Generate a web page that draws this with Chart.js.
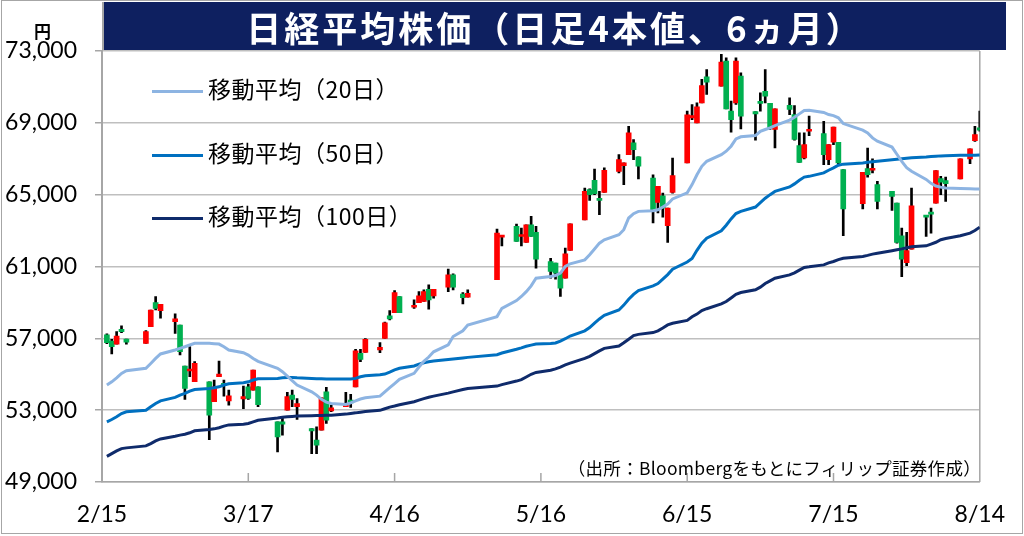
<!DOCTYPE html>
<html>
<head>
<meta charset="utf-8">
<script src="https://cdn.jsdelivr.net/npm/chart.js@4.4.1/dist/chart.umd.min.js"></script>
<style>
html,body{margin:0;padding:0;background:#fff;}
#wrap{position:relative;width:1024px;height:536px;overflow:hidden;background:#fff;}
#frame{position:absolute;left:1px;top:0px;width:1022px;height:534px;border:1.5px solid #a6a6a6;box-sizing:border-box;pointer-events:none;}
canvas{position:absolute;left:0;top:0;}
#title{position:absolute;left:102px;top:2px;width:904px;height:48px;background:#0E2060;color:#fff;
  font:700 35px "Noto Sans CJK JP";display:flex;align-items:center;justify-content:center;letter-spacing:3px;border-left:2px solid #a6a6a6;box-sizing:border-box;}
#yen{position:absolute;left:34px;top:18px;font:700 17px "Noto Sans CJK JP";color:#000;}
.lg{position:absolute;left:152px;height:24px;}
.lg .ln{position:absolute;left:0;top:11px;width:51px;height:3px;}
.lg .tx{position:absolute;left:56px;top:-8px;white-space:nowrap;font:400 23px "Noto Sans CJK JP";color:#000;letter-spacing:0.5px;}
#note{position:absolute;right:43px;top:455px;font:400 17.5px "Noto Sans CJK JP";color:#000;white-space:nowrap;letter-spacing:0.3px;}
</style>
</head>
<body>
<div id="wrap">
  <canvas id="c" width="1024" height="536"></canvas>
  <div id="title">日経平均株価（日足4本値、6ヵ月）</div>
  <div id="yen">円</div>
  <div class="lg" style="top:79px"><div class="ln" style="background:#8DB4E2"></div><div class="tx">移動平均（20日）</div></div>
  <div class="lg" style="top:143px"><div class="ln" style="background:#0070C0"></div><div class="tx">移動平均（50日）</div></div>
  <div class="lg" style="top:206px"><div class="ln" style="background:#0F2B6B"></div><div class="tx">移動平均（100日）</div></div>
  <div id="note">（出所：Bloombergをもとにフィリップ証券作成）</div>
  <div id="frame"></div>
</div>
<script>
// trading days, as day offsets from 2/15
const tradingDays = [1,2,3,4,5, 9,10,11,12, 15,16,17,18,19, 22,23,24,25,26, 29,30,31,32,
  36,37,38,39,40, 43,44,45,46,47, 50,51,52,53,54, 57,58,59,60,61, 64,65,66,67,68, 71,72, 74,75,
  81,82, 85,86,87,88,89, 92,93,94,95,96, 99,100,101,102,103, 106,107,108,109,110, 113,114,115,116,117,
  120,121,122,123,124, 127,128,129,130,131, 134,135,136,137,138, 141,142,143,144,145,
  148,149,150,151,152, 156,157,158,159, 162,163,164,165,166, 169,170,171,172,173, 176,178,179,180];

const openP = [57190,56850,56680,57500,56960, 56720,57650,58990,58540, 57930,57740,55460,55180,54580,
  54580,53470,54860,54420,53520, 53620,54300,54120,54300, 52350,52350,53000,53840,53190,
  51980,51330,51890,54020,52960, 53190,53560,54300,56160,56220, 56350,57000,58250,58430,59330,
  58730,58990,59050,59730,59360, 59850,60530, 59460,59290, 60260,62640, 63230,62670,62340,63320,62900,
  61280,61190,60630,60350,61890, 63600,65280,65800,64780,65130, 66300,66620,67230,67880,67100,
  65930,64570,64940,63270,65130, 66770,69280,69000,70110,71560, 71040,72440,69650,70110,71600,
  69630,70150,70760,70080,68630, 69980,69460,67730,67040,68530, 68400,66950,67920,67920,66390,
  64500,66450,66360,65560, 65180,64530,62710,61220,61970, 63850,63980,64530,65890,65780,
  65870,66990,68010,68720];

const highP = [57250,56950,57370,57690,56960, 57430,58580,59330,58900, 58360,57740,55460,56540,55700,
  54580,54680,55740,54680,54120, 54340,54450,55230,54300, 52350,52630,53990,54120,53650,
  51980,52070,53690,54270,53280, 53990,53880,56390,56390,56990, 56760,57900,58540,59660,59330,
  59140,59600,59700,59980,59730, 60850,60590, 59550,59700, 63080,62730, 63360,63140,63320,63790,63230,
  61460,61190,60630,62020,63380, 65370,65330,66430,65180,66490, 67230,66770,68810,68070,67100,
  66110,65460,65090,64250,67040, 69650,70020,70110,71420,71970, 72810,72620,70210,72620,71790,
  69630,70670,71970,70080,69780, 70390,69960,68440,68440,69370, 69090,67790,68770,67920,66390,
  66240,67600,66990,65740, 65180,64530,63140,62900,65370, 63850,64250,66340,66020,65980,
  66990,67550,68810,69650];

const lowP = [56700,56130,56680,57320,56670, 56720,57650,58580,58120, 57280,56070,53600,54860,54580,
  51360,53470,54860,53780,53280, 53090,53600,54120,53190, 50680,51610,53000,53190,52480,
  50580,50580,51890,52260,52910, 53190,53150,54300,55700,56220, 56200,57000,58020,58430,58430,
  58670,58990,59050,58620,59230, 59600,59700, 58920,59290, 60260,62150, 62390,62150,62340,62670,60910,
  60350,60290,59330,60350,61890, 63600,64680,65000,63880,65130, 66210,65560,67230,66950,65870,
  63420,63980,63750,62340,65090, 66770,69180,69000,70110,70580, 71040,69780,68480,70020,68660,
  68030,69650,70110,68630,67600, 69460,68030,66800,66990,68290, 66670,66670,67790,66670,62710,
  64200,65980,66210,64200, 64120,62300,60440,61040,61970, 62670,62860,64530,65000,64630,
  65870,66730,67970,68530];

const closeP = [56760,56540,57130,57370,56780, 57370,58580,58670,58900, 58080,56260,54210,55270,55610,
  52720,54300,55010,54380,53800, 53750,53650,55230,53300, 51510,52220,53750,53600,53370,
  51850,51050,53690,52440,53130, 53370,53410,56310,55830,56940, 56500,57870,58080,59550,58430,
  58840,59360,59600,59140,59730, 60530,59850, 59270,59510, 62860,62730, 62390,62770,63320,62670,61410,
  60720,60630,59790,61710,63380, 65180,65000,65050,64680,66360, 66950,66770,68440,67510,66580,
  64160,65460,64250,64250,66060, 69450,69410,69890,71080,71270, 72380,69780,69180,72440,69370,
  69500,70080,70490,68720,69780, 69740,68070,66800,67790,68590, 67230,67790,68770,66770,64200,
  66240,66110,66450,64630, 64900,62340,61410,61890,64380, 63750,63920,66340,65690,65610,
  66990,67550,68350,68590];

const ma20 = [54400,54580,54800,55050,55200, 55330,55600,55880,56130, 56350,56440,56530,56630,56720,
  56720,56700,56680,56530,56350, 56200,56070,55880,55720, 55330,55140,54900,54640,54400,
  54020,53840,53600,53450,53370, 53320,53410,53520,53620,53690, 53780,54020,54250,54480,54720,
  55050,55400,55720,55960,56250, 56640,57100, 57420,57740, 58210,58670, 59100,59330,59600,59920,60350,
  60440,60500,60630,61000,61150, 61370,61650,61970,62300,62490, 62770,63050,63700,63940,64070,
  64100,64160,64310,64480,64760, 65100,65560,66110,66580,66860, 67230,67420,67700,68100,68220,
  68290,68530,68630,68720,68850, 69150,69310,69500,69690,69700, 69580,69460,69400,69280,68960,
  68590,68440,68160,67980, 67650,67250,66850,66500,66300, 65850,65630,65480,65420,65370,
  65350,65330,65310,65320];

const ma50 = [52350,52480,52630,52810,52910, 53000,53190,53370,53520, 53710,53840,53930,54060,54150,
  54210,54250,54300,54400,54470, 54530,54580,54680,54750, 54770,54800,54820,54820,54800,
  54770,54750,54750,54730,54730, 54730,54730,54770,54860,54920, 54970,55010,55120,55240,55330,
  55460,55560,55640,55700,55740, 55820,55850, 55910,55940, 56090,56180, 56390,56470,56560,56620,56680,
  56710,56740,56850,56980,57130, 57420,57600,57850,58080,58280, 58580,58850,59180,59450,59660,
  59920,60050,60300,60550,60850, 61250,61450,61900,62300,62580, 62990,63300,63650,63950,64070,
  64310,64550,64800,65000,65180, 65430,65600,65800,65980,66020, 66210,66360,66490,66640,66700,
  66770,66800,66830,66860, 66940,66970,67000,67030,67060, 67100,67120,67140,67160,67170,
  67190,67195,67200,67210];

const ma100 = [50430,50580,50730,50860,50900, 51010,51140,51290,51400, 51550,51610,51660,51740,51850,
  51920,51960,52020,52110,52180, 52220,52260,52350,52440, 52570,52610,52630,52650,52670,
  52690,52700,52700,52720,52720, 52780,52820,52850,52890,52930, 52990,53080,53170,53230,53300,
  53470,53560,53640,53720,53780, 53950,54020, 54150,54210, 54340,54420, 54620,54700,54850,55000,55100,
  55220,55300,55400,55520,55620, 55880,56000,56150,56300,56440, 56570,56750,56950,57150,57220,
  57320,57420,57580,57750,57840, 58000,58200,58350,58550,58650, 58920,59050,59250,59450,59550,
  59700,59850,60050,60200,60350, 60530,60650,60800,60950,60980, 61090,61200,61280,61380,61460,
  61560,61620,61690,61740, 61880,61930,61980,62040,62100, 62150,62250,62350,62490,62560,
  62710,62860,63000,63190];

const xTickValues = [0,30,60,90,120,150,180];
const xTickLabels = ['2/15','3/17','4/16','5/16','6/15','7/15','8/14'];
const yMin = 49000, yMax = 73000, yStep = 4000;

const UP = '#FF0000', DOWN = '#00B050';
const bodyColors = tradingDays.map((d,i)=> closeP[i] >= openP[i] ? UP : DOWN);

const frameDeco = {
  id:'frameDeco',
  beforeDatasetsDraw(chart){
    const {ctx, chartArea:a, scales:{x}} = chart;
    ctx.save();
    ctx.strokeStyle = '#a6a6a6';
    ctx.lineWidth = 1.5;
    ctx.beginPath();
    ctx.moveTo(a.right, a.top); ctx.lineTo(a.right, a.bottom);
    xTickValues.forEach(v=>{
      const px = x.getPixelForValue(v);
      ctx.moveTo(px, a.bottom); ctx.lineTo(px, a.bottom - 9);
    });
    ctx.stroke();
    ctx.restore();
  }
};

const lineDs = (label, arr, color, order) => ({
  type:'line', label, order,
  data: tradingDays.map((d,i)=>({x:d, y:arr[i]})),
  borderColor: color, backgroundColor: color, borderWidth: 3,
  pointRadius: 0, tension: 0, fill: false
});

new Chart(document.getElementById('c'), {
  type: 'bar',
  data: {
    datasets: [
      lineDs('移動平均（20日）', ma20, '#8DB4E2', 1),
      lineDs('移動平均（50日）', ma50, '#0070C0', 1),
      lineDs('移動平均（100日）', ma100, '#0F2B6B', 1),
      {
        type:'bar', label:'body', order:2, grouped:false,
        data: tradingDays.map((d,i)=>({x:d, y:[openP[i], closeP[i]]})),
        backgroundColor: bodyColors, borderWidth:0, barThickness:5, minBarLength:2
      },
      {
        type:'bar', label:'wick', order:3, grouped:false,
        data: tradingDays.map((d,i)=>({x:d, y:[lowP[i], highP[i]]})),
        backgroundColor:'#000', borderWidth:0, barThickness:2
      }
    ]
  },
  options: {
    responsive:false, animation:false,
    layout:{padding:{left:0, top:51, right:42, bottom:0}},
    plugins:{legend:{display:false}, tooltip:{enabled:false}},
    scales:{
      x:{
        type:'linear', min:0, max:180, offset:false,
        afterBuildTicks(s){ s.ticks = xTickValues.map(v=>({value:v})); },
        afterFit(s){ s.height = 54; },
        grid:{drawOnChartArea:false, drawTicks:false},
        border:{display:true, color:'#a6a6a6', width:1.5},
        ticks:{
          autoSkip:false, maxRotation:0, padding:19, color:'#000',
          font:{family:'Lato', size:23},
          callback:(v)=>{ const k = xTickValues.indexOf(v); return k>=0 ? xTickLabels[k] : ''; }
        }
      },
      y:{
        min:yMin, max:yMax,
        afterFit(s){ s.width = 102; },
        grid:{color:'#BFBFBF', lineWidth:1.5, tickLength:7, tickColor:'#a6a6a6'},
        border:{display:true, color:'#a6a6a6', width:2},
        ticks:{
          stepSize:yStep, padding:18, color:'#000',
          font:{family:'Lato', size:23},
          callback:(v)=> Number(v).toLocaleString('en-US')
        }
      }
    }
  },
  plugins:[frameDeco]
});
</script>
</body>
</html>
